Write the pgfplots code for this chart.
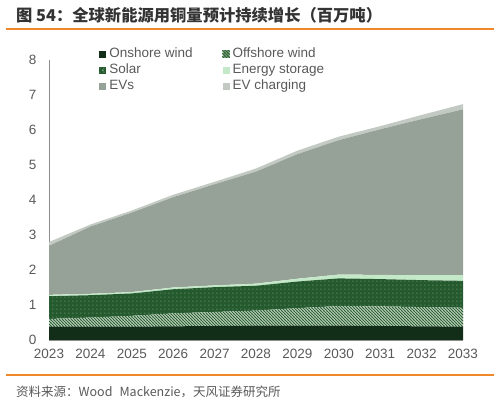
\documentclass[border=0pt]{standalone}
\usepackage{fontspec}
\setmainfont{Liberation Sans}
\newfontfamily\cjk{Noto Sans CJK SC}
\usepackage{pgfplots}
\usepackage{pgfplotstable}
\pgfplotsset{compat=1.18}
\usetikzlibrary{patterns}

\definecolor{onshore}{HTML}{122E19}
\definecolor{offline}{HTML}{2F6336}
\definecolor{offbg}{HTML}{D3E2D3}
\definecolor{solar}{HTML}{245A2E}
\definecolor{solardot}{HTML}{7FA684}
\definecolor{storage}{HTML}{C4E9C8}
\definecolor{evs}{HTML}{96A297}
\definecolor{evchg}{HTML}{C3CAC3}
\definecolor{tickgray}{HTML}{595959}
\definecolor{axisgray}{HTML}{8C8C8C}
\definecolor{titlegray}{HTML}{333333}
\definecolor{orangeline}{HTML}{F0882A}

% hatch for offshore wind, dots for solar
\pgfdeclarepatternformonly{offhatch}{\pgfqpoint{-1pt}{-1pt}}{\pgfqpoint{4pt}{4pt}}{\pgfqpoint{3pt}{3pt}}{%
  \pgfsetlinewidth{1pt}%
  \pgfpathmoveto{\pgfqpoint{-1pt}{4pt}}\pgfpathlineto{\pgfqpoint{4pt}{-1pt}}%
  \pgfusepath{stroke}}
\pgfdeclarepatternformonly{soldots}{\pgfqpoint{0pt}{0pt}}{\pgfqpoint{4.3pt}{4.3pt}}{\pgfqpoint{4.3pt}{4.3pt}}{%
  \pgfpathcircle{\pgfqpoint{2.15pt}{2.15pt}}{0.65pt}\pgfusepath{fill}}

% increments per layer (million tonnes)
\pgfplotstableread{
year on   off  sol  sto  ev   chg
2023 0.38 0.22 0.65 0.04 1.40 0.11
2024 0.38 0.26 0.64 0.04 1.92 0.06
2025 0.38 0.31 0.64 0.04 2.27 0.06
2026 0.39 0.37 0.69 0.05 2.58 0.07
2027 0.40 0.40 0.71 0.05 2.89 0.07
2028 0.41 0.43 0.71 0.06 3.20 0.09
2029 0.41 0.50 0.76 0.08 3.56 0.10
2030 0.41 0.56 0.79 0.11 3.84 0.10
2031 0.40 0.56 0.78 0.12 4.16 0.09
2032 0.39 0.55 0.77 0.14 4.46 0.12
2033 0.38 0.54 0.77 0.16 4.74 0.15
}\copperdata

\begin{document}
\begin{tikzpicture}
\useasboundingbox (0,0) rectangle (499pt,404pt);

\node[anchor=west, text=titlegray, font=\cjk\bfseries\fontsize{16.3}{17}\selectfont, inner sep=0pt]
  at (16pt,389pt) {图 54：全球新能源用铜量预计持续增长（百万吨）};
\draw[orangeline, line width=1.2pt] (6pt,375pt) -- (494pt,375pt);
\draw[orangeline, line width=1.2pt] (6pt,29pt) -- (494pt,29pt);
\node[anchor=west, text=tickgray, font=\cjk\fontsize{12.5}{13}\selectfont, inner sep=0pt]
  at (16pt,12pt) {资料来源：Wood\hspace{7pt}Mackenzie，天风证券研究所};

\begin{axis}[
  at={(49pt,64pt)}, anchor=south west,
  scale only axis, width=414pt, height=280pt,
  xmin=2023, xmax=2033, ymin=0, ymax=8,
  axis x line*=bottom, axis y line*=left,
  axis line style={draw=axisgray, line width=0.8pt},
  xtick={2023,...,2033}, ytick={0,...,8},
  major tick length=0pt,
  tick label style={font=\fontsize{13.5}{14}\selectfont, text=tickgray},
  /pgf/number format/assume math mode=true,
  /pgf/number format/1000 sep={},
  xticklabel style={yshift=-6pt},
  yticklabel style={xshift=-9pt},
  stack plots=y,
  legend columns=2,
  legend style={at={(axis description cs:0.121,1.047)}, anchor=north west,
    draw=none, fill=none, inner sep=0pt,
    font=\fontsize{13.5}{14}\selectfont, text=tickgray,
    nodes={inner sep=1pt, text height=9.5pt, text depth=3pt},
    row sep=1.5pt,
    /tikz/every odd column/.append style={column sep=2pt},
    /tikz/every even column/.append style={column sep=29pt}},
  legend cell align=left,
]
\addplot[fill=onshore, draw=none,
  legend image code/.code={\fill[onshore] (0pt,-3.5pt) rectangle (7pt,3.5pt);}]
  table[x=year, y=on] {\copperdata} \closedcycle;
\addplot[fill=offbg, draw=none, postaction={pattern=offhatch, pattern color=offline},
  legend image code/.code={\fill[offbg] (0pt,-3.5pt) rectangle (7pt,3.5pt);
    \fill[pattern=offhatch, pattern color=offline] (0pt,-3.5pt) rectangle (7pt,3.5pt);}]
  table[x=year, y=off] {\copperdata} \closedcycle;
\addplot[fill=solar, draw=none, postaction={pattern=soldots, pattern color=solardot},
  legend image code/.code={\fill[solar] (0pt,-3.5pt) rectangle (7pt,3.5pt);
    \fill[solardot] (3.5pt,0pt) circle (1pt);}]
  table[x=year, y=sol] {\copperdata} \closedcycle;
\addplot[fill=storage, draw=none,
  legend image code/.code={\fill[storage] (0pt,-3.5pt) rectangle (7pt,3.5pt);}]
  table[x=year, y=sto] {\copperdata} \closedcycle;
\addplot[fill=evs, draw=none,
  legend image code/.code={\fill[evs] (0pt,-3.5pt) rectangle (7pt,3.5pt);}]
  table[x=year, y=ev] {\copperdata} \closedcycle;
\addplot[fill=evchg, draw=none,
  legend image code/.code={\fill[evchg] (0pt,-3.5pt) rectangle (7pt,3.5pt);}]
  table[x=year, y=chg] {\copperdata} \closedcycle;
\legend{Onshore wind, Offshore wind, Solar, Energy storage, EVs, EV charging}
\end{axis}
\end{tikzpicture}
\end{document}
